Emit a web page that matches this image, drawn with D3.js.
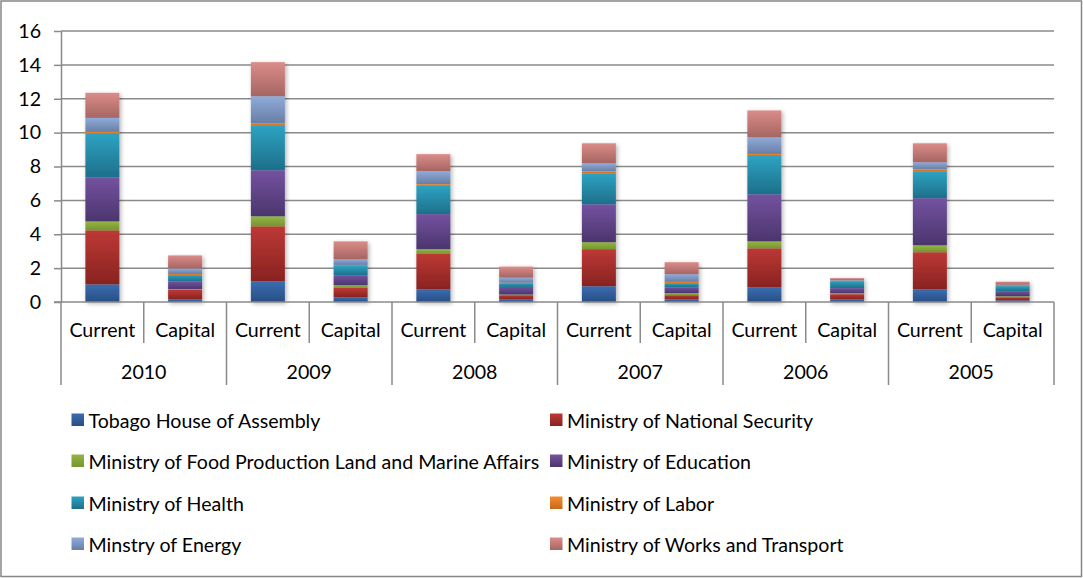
<!DOCTYPE html>
<html>
<head>
<meta charset="utf-8">
<script src="https://cdn.jsdelivr.net/npm/d3@7"></script>
<style>
  html, body { margin: 0; padding: 0; background: #fff; }
  svg { display: block; font-family: Lato, "Open Sans", sans-serif; }
</style>
</head>
<body>
<svg id="chart" width="1083" height="578"></svg>
<script>
const years = ["2010", "2009", "2008", "2007", "2006", "2005"];
const types = ["Current", "Capital"];
const yTicks = [0, 2, 4, 6, 8, 10, 12, 14, 16];

const seriesNames = [
  "Tobago House of Assembly",
  "Ministry of National Security",
  "Ministry of Food Production Land and Marine Affairs",
  "Ministry of Education",
  "Ministry of Health",
  "Ministry of Labor",
  "Minstry of Energy",
  "Ministry of Works and Transport"
];

// values in category order: 2010 Current, 2010 Capital, 2009 Current, ...
const tobago   = [1.04, 0.16, 1.22, 0.28, 0.75, 0.16, 0.93, 0.16, 0.87, 0.16, 0.75, 0.10];
const natSec   = [3.19, 0.55, 3.25, 0.55, 2.09, 0.24, 2.19, 0.24, 2.30, 0.30, 2.19, 0.18];
const food     = [0.53, 0.06, 0.59, 0.16, 0.28, 0.04, 0.41, 0.12, 0.41, 0.06, 0.41, 0.06];
const education= [2.60, 0.45, 2.72, 0.59, 2.07, 0.45, 2.24, 0.35, 2.78, 0.30, 2.78, 0.30];
const health   = [2.58, 0.37, 2.66, 0.55, 1.67, 0.22, 1.83, 0.24, 2.26, 0.41, 1.59, 0.30];
const labor    = [0.10, 0.06, 0.12, 0.06, 0.10, 0.03, 0.12, 0.08, 0.12, 0.02, 0.12, 0.06];
const energy   = [0.83, 0.33, 1.59, 0.33, 0.77, 0.30, 0.47, 0.45, 0.98, 0.04, 0.41, 0.02];
const works    = [1.48, 0.77, 2.01, 1.06, 1.00, 0.65, 1.18, 0.71, 1.59, 0.12, 1.12, 0.18];

const seriesValues = [tobago, natSec, food, education, health, labor, energy, works];
const colorsTop    = ["#3a6db0", "#bd3835", "#93b545", "#7452a0", "#2ea3c3", "#f58d2e", "#8fabd9", "#db8c89"];
const colorsBottom = ["#284e84", "#882321", "#76952f", "#4b356d", "#1d6f89", "#c8681a", "#687fa6", "#a56562"];

const categories = [];
years.forEach(y => types.forEach(t => categories.push({ key: y + "|" + t, year: y, type: t })));

const table = categories.map((c, i) => {
  const row = { key: c.key };
  seriesNames.forEach((s, j) => row[s] = seriesValues[j][i]);
  return row;
});

const FS = 19.6;
const svg = d3.select("#chart");
const W = 1083, H = 578;
const plotLeft = 61, plotRight = 1054, plotTop = 31, plotBottom = 302;

// outer border
svg.append("rect").attr("x", 1).attr("y", 1).attr("width", W - 2.5).attr("height", H - 2.5)
  .attr("fill", "#fff").attr("stroke", "#868686").attr("stroke-width", 1.5);

const defs = svg.append("defs");
seriesNames.forEach((s, j) => {
  const g = defs.append("linearGradient").attr("id", "grad" + j)
    .attr("x1", 0).attr("y1", 0).attr("x2", 0).attr("y2", 1);
  g.append("stop").attr("offset", "0%").attr("stop-color", colorsTop[j]);
  g.append("stop").attr("offset", "100%").attr("stop-color", colorsBottom[j]);
});
const f = defs.append("filter").attr("id", "shadow").attr("x", "-20%").attr("y", "-10%").attr("width", "150%").attr("height", "130%");
f.append("feDropShadow").attr("dx", 1.5).attr("dy", 1.5).attr("stdDeviation", 2).attr("flood-color", "#000").attr("flood-opacity", 0.3);

const x = d3.scaleBand().domain(categories.map(c => c.key))
  .range([plotLeft, plotRight]).paddingInner(0.589).paddingOuter(0.2945);
const y = d3.scaleLinear().domain([0, 16]).range([plotBottom, plotTop]);

// gridlines
svg.append("g").selectAll("line").data(yTicks.filter(t => t > 0)).join("line")
  .attr("x1", plotLeft).attr("x2", plotRight)
  .attr("y1", d => y(d)).attr("y2", d => y(d))
  .attr("stroke", "#8a8a8a").attr("stroke-width", 1.5);

// y axis
const yAxis = svg.append("g").attr("transform", `translate(${plotLeft},0)`)
  .call(d3.axisLeft(y).tickValues(yTicks).tickSize(7).tickPadding(13).tickSizeOuter(0));
yAxis.select(".domain").attr("stroke", "#8a8a8a").attr("stroke-width", 1.5);
yAxis.selectAll(".tick line").attr("stroke", "#8a8a8a").attr("stroke-width", 1.5);
yAxis.selectAll("text").attr("font-size", FS).attr("fill", "#000").attr("font-family", "Lato, sans-serif");

// stacked bars
const stack = d3.stack().keys(seriesNames);
const stacked = stack(table);
const barsG = svg.append("g").attr("filter", "url(#shadow)");
stacked.forEach((layer, j) => {
  barsG.append("g").selectAll("rect").data(layer).join("rect")
    .attr("x", d => x(d.data.key))
    .attr("width", x.bandwidth())
    .attr("y", d => y(d[1]))
    .attr("height", d => Math.max(0, y(d[0]) - y(d[1])))
    .attr("fill", `url(#grad${j})`);
});

// category axis
const step = x.step();
const axisG = svg.append("g");
axisG.append("line").attr("x1", plotLeft - 7).attr("x2", plotRight)
  .attr("y1", plotBottom).attr("y2", plotBottom).attr("stroke", "#8a8a8a").attr("stroke-width", 1.5);
categories.forEach((c, i) => {
  const left = x(c.key) - step * x.paddingInner() / 2;
  const isYearBoundary = c.type === "Current";
  axisG.append("line").attr("x1", left).attr("x2", left)
    .attr("y1", plotBottom).attr("y2", isYearBoundary ? 385 : 343)
    .attr("stroke", "#8a8a8a").attr("stroke-width", 1.5);
  axisG.append("text").attr("x", x(c.key) + x.bandwidth() / 2).attr("y", 329)
    .attr("text-anchor", "middle").attr("dominant-baseline", "central")
    .attr("font-size", FS).attr("fill", "#000").text(c.type);
});
axisG.append("line").attr("x1", plotRight).attr("x2", plotRight)
  .attr("y1", plotBottom).attr("y2", 385).attr("stroke", "#8a8a8a").attr("stroke-width", 1.5);
years.forEach((yr, k) => {
  const a = x(yr + "|Current"), b = x(yr + "|Capital");
  axisG.append("text").attr("x", (a + b) / 2 + x.bandwidth() / 2).attr("y", 371)
    .attr("text-anchor", "middle").attr("dominant-baseline", "central")
    .attr("font-size", FS).attr("fill", "#000").text(yr);
});

// legend
const legendCols = [71.5, 550];
const legendRows = [420, 461, 503, 544];
const lg = svg.append("g");
seriesNames.forEach((s, j) => {
  const cx = legendCols[j % 2], cy = legendRows[Math.floor(j / 2)];
  lg.append("rect").attr("x", cx).attr("y", cy - 6.5).attr("width", 12.5).attr("height", 12.5)
    .attr("fill", `url(#grad${j})`);
  lg.append("text").attr("x", cx + 17).attr("y", cy).attr("dominant-baseline", "central")
    .attr("font-size", FS).attr("fill", "#000").text(s);
});
</script>
</body>
</html>
